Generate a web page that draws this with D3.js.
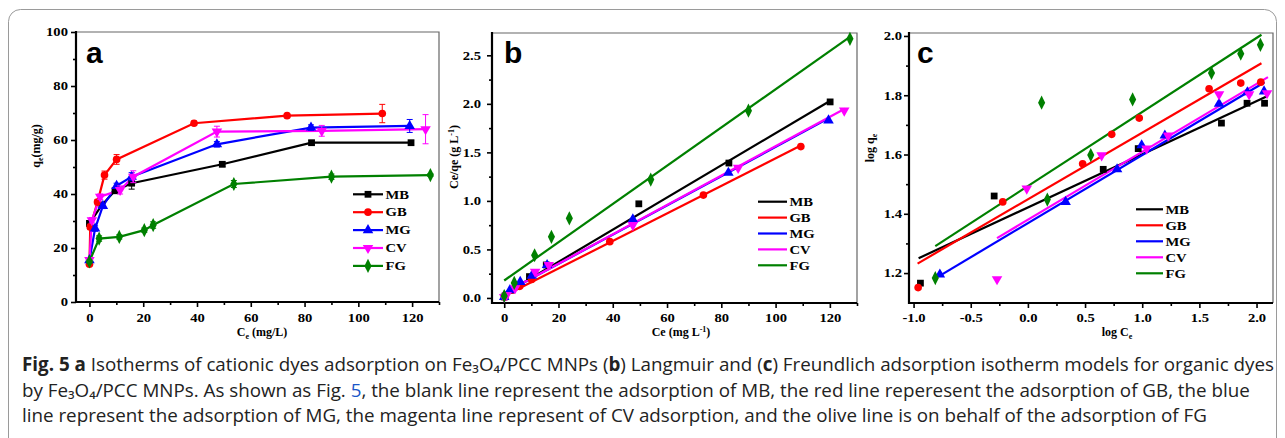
<!DOCTYPE html>
<html>
<head>
<meta charset="utf-8">
<script src="https://cdn.jsdelivr.net/npm/d3@7"></script>
<style>
  body { margin: 0; background: #fff; }
  svg { display: block; }
</style>
</head>
<body>
<script>
// ---- data ----
const dyes = ["MB", "GB", "MG", "CV", "FG"];
const colors = ["#000000", "#ff0000", "#0000ff", "#ff00ff", "#008000"];

// (a) isotherms: [Ce, qe, error]
const isoMB = [[0, 29.1, 1], [4.6, 35.9, 1], [9.5, 41.2, 1], [15.7, 44, 2.2], [49.4, 51, 0.8], [82.6, 59, 0.8], [119.6, 59, 0.8]];
const isoGB = [[0, 14, 0.5], [0.3, 27.8, 1], [3, 37, 1], [5.6, 47, 1.5], [10.1, 52.8, 1.8], [38.9, 66.2, 0.8], [73.5, 69, 0.8], [108.9, 69.8, 3.4]];
const isoMG = [[0, 15.5, 0.5], [2.1, 27.2, 1], [5, 35.6, 1], [10.1, 43, 1], [15.7, 46.4, 1.5], [47.4, 58.4, 1], [82.4, 64.6, 1], [119.1, 65.2, 2.4]];
const isoCV = [[0, 15.5, 0.5], [0.9, 30.3, 1], [4, 39, 1], [11.4, 41.5, 1.5], [16.3, 46.4, 2.2], [47.4, 63.1, 2], [86.4, 63.4, 2], [125, 64, 5.4]];
const isoFG = [[0, 15, 0.5], [3.6, 23.5, 1], [11.1, 24.1, 0.8], [20.4, 26.6, 0.8], [23.7, 28.5, 1.2], [53.7, 43.7, 1.3], [90, 46.4, 1], [126.8, 47, 0.5]];

// (b) Langmuir: points [Ce, Ce/qe] and fitted line ends
const langMB = [[0, 0.01], [4.6, 0.13], [9.3, 0.22], [15.5, 0.34], [49.6, 0.97], [82.8, 1.39], [120.1, 2.02]];
const langGB = [[0.2, 0.01], [0.3, 0.02], [3, 0.08], [5.7, 0.12], [10.1, 0.19], [38.9, 0.58], [73.4, 1.06], [109.3, 1.56]];
const langMG = [[0, 0.01], [2.1, 0.08], [5.9, 0.165], [10.2, 0.23], [15.8, 0.34], [47.4, 0.81], [82.6, 1.29], [119.5, 1.83]];
const langCV = [[0, 0.01], [0.9, 0.03], [4, 0.1], [11.4, 0.27], [16.4, 0.34], [47.4, 0.75], [86.2, 1.34], [125.3, 1.93]];
const langFG = [[0, 0.02], [3.7, 0.155], [11.2, 0.44], [17.4, 0.63], [24, 0.82], [54, 1.22], [90, 1.93], [127.4, 2.67]];
const fitB_MB = [[0, 0.04], [120, 2.03]];
const fitB_GB = [[0, 0.02], [109.3, 1.57]];
const fitB_MG = [[0, 0.05], [119.5, 1.85]];
const fitB_CV = [[0, 0.05], [125.5, 1.95]];
const fitB_FG = [[0, 0.18], [127.4, 2.69]];

// (c) Freundlich: points [log Ce, log qe] and fitted line ends
const logMB = [[-0.94, 1.166], [-0.295, 1.46], [0.659, 1.55], [0.965, 1.62], [1.693, 1.706], [1.917, 1.773], [2.07, 1.773]];
const logGB = [[-0.96, 1.151], [-0.22, 1.44], [0.479, 1.569], [0.733, 1.668], [0.974, 1.723], [1.585, 1.822], [1.862, 1.841], [2.037, 1.844]];
const logMG = [[-0.77, 1.195], [0.33, 1.44], [0.78, 1.55], [0.995, 1.631], [1.198, 1.664], [1.672, 1.771], [1.92, 1.81], [2.066, 1.813]];
const logCV = [[-0.27, 1.179], [-0.01, 1.485], [0.645, 1.597], [1.038, 1.62], [1.227, 1.664], [1.672, 1.803], [1.935, 1.803], [2.092, 1.807]];
const logFG = [[-0.81, 1.183], [0.17, 1.448], [0.12, 1.775], [0.55, 1.598], [0.916, 1.786], [1.606, 1.875], [1.862, 1.94], [2.034, 1.97]];
const fitC_MB = [[-0.956, 1.25], [2.087, 1.796]];
const fitC_GB = [[-0.965, 1.232], [2.043, 1.908]];
const fitC_MG = [[-0.78, 1.189], [2.07, 1.844]];
const fitC_CV = [[-0.27, 1.318], [2.10, 1.861]];
const fitC_FG = [[-0.81, 1.291], [2.043, 2.004]];

// tick values
const aXTicks = [0, 20, 40, 60, 80, 100, 120], aXMinor = [10, 30, 50, 70, 90, 110, 130];
const aYTicks = [0, 20, 40, 60, 80, 100], aYMinor = [10, 30, 50, 70, 90];
const bXTicks = [0, 20, 40, 60, 80, 100, 120], bXMinor = [10, 30, 50, 70, 90, 110, 130];
const bYTicks = [0, 0.5, 1.0, 1.5, 2.0, 2.5], bYMinor = [0.25, 0.75, 1.25, 1.75, 2.25];
const cXTicks = [-1.0, -0.5, 0.0, 0.5, 1.0, 1.5, 2.0], cXMinor = [-0.75, -0.25, 0.25, 0.75, 1.25, 1.75];
const cYTicks = [1.2, 1.4, 1.6, 1.8, 2.0], cYMinor = [1.3, 1.5, 1.7, 1.9];

// ---- drawing ----
const W = 1285, H = 438;
const SERIF = "'Liberation Serif','Times New Roman',serif";
const SANS = "'Liberation Sans',Arial,sans-serif";
const STRETCH = 1.22;
const symbolTypes = [d3.symbolSquare, d3.symbolCircle, d3.symbolTriangle, d3.symbolTriangle, d3.symbolDiamond];
const symbolSizes = [46, 46, 48, 48, 44];

const svg = d3.select("body").append("svg").attr("width", W).attr("height", H);
svg.append("rect").attr("width", W).attr("height", H).attr("fill", "#fff");
svg.append("rect")
  .attr("x", 8.5).attr("y", 9.5).attr("width", 1268).attr("height", 450).attr("rx", 12)
  .attr("fill", "none").attr("stroke", "#9a9a9a");

// widen serif text horizontally like the figure's scaling
function stretchText(sel) {
  sel.each(function () {
    const t = d3.select(this);
    const x = +t.attr("x") || 0;
    t.attr("transform", "translate(" + x + ",0) scale(" + STRETCH + ",1) translate(" + (-x) + ",0)");
  });
}

function panel(cfg) {
  const x = d3.scaleLinear().domain(cfg.xDom).range([cfg.left, cfg.right]);
  const y = d3.scaleLinear().domain(cfg.yDom).range([cfg.bottom, cfg.top]);
  const g = svg.append("g");

  g.append("path")
    .attr("d", "M" + cfg.left + "," + cfg.top + "H" + cfg.right + "V" + cfg.bottom)
    .attr("fill", "none").attr("stroke", "#666").attr("stroke-width", 1.2);

  const xa = g.append("g").attr("transform", "translate(0," + cfg.bottom + ")")
    .call(d3.axisBottom(x).tickValues(cfg.xTicks).tickSize(5).tickPadding(cfg.xPad).tickFormat(cfg.fmt));
  const xm = g.append("g").attr("transform", "translate(0," + cfg.bottom + ")")
    .call(d3.axisBottom(x).tickValues(cfg.xMinor).tickSize(3).tickFormat(""));
  const ya = g.append("g").attr("transform", "translate(" + cfg.left + ",0)")
    .call(d3.axisLeft(y).tickValues(cfg.yTicks).tickSize(5).tickPadding(cfg.yPad).tickFormat(cfg.yFmt));
  const ym = g.append("g").attr("transform", "translate(" + cfg.left + ",0)")
    .call(d3.axisLeft(y).tickValues(cfg.yMinor).tickSize(3).tickFormat(""));

  [xa, xm, ya, ym].forEach(a => {
    a.select(".domain").remove();
    a.selectAll("line").attr("stroke", "#000").attr("stroke-width", 1.6);
    a.attr("font-family", SERIF).attr("font-size", 12).attr("font-weight", "bold");
    a.selectAll("text").attr("fill", "#000");
  });
  stretchText(xa.selectAll("text"));
  stretchText(ya.selectAll("text"));

  g.append("path")
    .attr("d", "M" + cfg.left + "," + (cfg.top - 1) + "V" + cfg.bottom + "H" + cfg.right)
    .attr("fill", "none").attr("stroke", "#000").attr("stroke-width", 2.2);

  g.append("text").attr("x", cfg.labelX).attr("y", 62.7)
    .attr("font-family", SANS).attr("font-weight", "bold").attr("font-size", 30)
    .text(cfg.label);
  return { g, x, y };
}

function drawMarker(g, i, px, py) {
  const sym = d3.symbol().type(symbolTypes[i]).size(symbolSizes[i]);
  g.append("path")
    .attr("d", sym())
    .attr("transform", "translate(" + px + "," + py + ")" + (i === 3 ? " rotate(180)" : "") + (i === 4 ? " scale(1,1.15)" : ""))
    .attr("fill", colors[i]);
}

function legend(g, x1, x2, y0, dy, withMarkers) {
  dyes.forEach((name, i) => {
    const yy = y0 + i * dy;
    g.append("line").attr("x1", x1).attr("x2", x2).attr("y1", yy).attr("y2", yy)
      .attr("stroke", colors[i]).attr("stroke-width", 2.2);
    if (withMarkers) drawMarker(g, i, (x1 + x2) / 2, yy);
    const t = g.append("text").attr("x", x2 + 2.5).attr("y", yy + 4.3)
      .attr("font-family", SERIF).attr("font-weight", "bold").attr("font-size", 12)
      .text(name);
    stretchText(t);
  });
}

function axisTitle(parts, x, y, rotate) {
  const t = svg.append("text")
    .attr("transform", "translate(" + x + "," + y + ")" + (rotate ? " rotate(-90)" : ""))
    .attr("text-anchor", "middle")
    .attr("font-family", SERIF).attr("font-weight", "bold").attr("font-size", 12);
  parts.forEach(p => {
    const s = t.append("tspan").text(p[0]);
    if (p[1] === "sub") s.attr("font-size", 8).attr("dy", 3);
    if (p[1] === "sup") s.attr("font-size", 8).attr("dy", -4);
    if (p[1] === "back") s.attr("dy", -3);
    if (p[1] === "backsup") s.attr("dy", 4);
  });
  return t;
}

// ---- panel a ----
const A = panel({
  left: 76, top: 32, right: 439, bottom: 302, xDom: [-5, 130], yDom: [0, 100],
  xTicks: aXTicks, xMinor: aXMinor, yTicks: aYTicks, yMinor: aYMinor,
  fmt: d3.format("d"), yFmt: d3.format("d"), xPad: 6, yPad: 3, label: "a", labelX: 86
});
const isoSeries = [isoMB, isoGB, isoMG, isoCV, isoFG];
const lineA = d3.line().x(d => A.x(d[0])).y(d => A.y(d[1]));
isoSeries.forEach((s, i) => {
  A.g.append("path").attr("d", lineA(s)).attr("fill", "none")
    .attr("stroke", colors[i]).attr("stroke-width", 2.2);
});
isoSeries.forEach((s, i) => {
  s.forEach(d => {
    const px = A.x(d[0]), y1 = A.y(d[1] - d[2]), y2 = A.y(d[1] + d[2]);
    A.g.append("path")
      .attr("d", "M" + px + "," + y1 + "V" + y2 + "M" + (px - 3) + "," + y1 + "h6M" + (px - 3) + "," + y2 + "h6")
      .attr("stroke", colors[i]).attr("stroke-width", 1).attr("fill", "none");
    drawMarker(A.g, i, px, A.y(d[1]));
  });
});
legend(A.g, 353, 383, 194.3, 17.9, true);

// ---- panel b ----
const B = panel({
  left: 492, top: 33, right: 857, bottom: 303, xDom: [-4.5, 130], yDom: [-0.052, 2.73],
  xTicks: bXTicks, xMinor: bXMinor, yTicks: bYTicks, yMinor: bYMinor,
  fmt: d3.format("d"), yFmt: d => d.toFixed(1), xPad: 5.5, yPad: 6, label: "b", labelX: 504
});
const langSeries = [langMB, langGB, langMG, langCV, langFG];
const fitB = [fitB_MB, fitB_GB, fitB_MG, fitB_CV, fitB_FG];
const lineB = d3.line().x(d => B.x(d[0])).y(d => B.y(d[1]));
fitB.forEach((s, i) => {
  B.g.append("path").attr("d", lineB(s)).attr("fill", "none")
    .attr("stroke", colors[i]).attr("stroke-width", 2.2);
});
langSeries.forEach((s, i) => s.forEach(d => drawMarker(B.g, i, B.x(d[0]), B.y(d[1]))));
legend(B.g, 758, 787, 201.7, 15.9, false);

// ---- panel c ----
const C = panel({
  left: 909, top: 33, right: 1273, bottom: 303, xDom: [-1.04, 2.144], yDom: [1.099, 2.01],
  xTicks: cXTicks, xMinor: cXMinor, yTicks: cYTicks, yMinor: cYMinor,
  fmt: d => d.toFixed(1), yFmt: d => d.toFixed(1), xPad: 5.5, yPad: 2, label: "c", labelX: 917
});
const logSeries = [logMB, logGB, logMG, logCV, logFG];
const fitC = [fitC_MB, fitC_GB, fitC_MG, fitC_CV, fitC_FG];
const lineC = d3.line().x(d => C.x(d[0])).y(d => C.y(d[1]));
fitC.forEach((s, i) => {
  C.g.append("path").attr("d", lineC(s)).attr("fill", "none")
    .attr("stroke", colors[i]).attr("stroke-width", 2.2);
});
logSeries.forEach((s, i) => s.forEach(d => drawMarker(C.g, i, C.x(d[0]), C.y(d[1]))));
legend(C.g, 1136, 1163, 209.3, 16, false);

// ---- axis titles ----
axisTitle([["q"], ["e", "sub"], ["(mg/g)", "back"]], 40, 146, true);
axisTitle([["C"], ["e", "sub"], [" (mg/L)", "back"]], 262, 336, false);
axisTitle([["Ce/qe (g L"], ["-1", "sup"], [")", "backsup"]], 458, 157, true);
axisTitle([["Ce (mg L"], ["-1", "sup"], [")", "backsup"]], 681, 336, false);
axisTitle([["log q"], ["e", "sub"]], 874, 148, true);
axisTitle([["log C"], ["e", "sub"]], 1117, 336, false);

// ---- caption ----
const captionLines = [
  [["Fig. 5 a", "b"], [" Isotherms of cationic dyes adsorption on Fe\u2083O\u2084/PCC MNPs ("], ["b", "b"], [") Langmuir and ("], ["c", "b"], [") Freundlich adsorption isotherm models for organic dyes"]],
  [["by Fe\u2083O\u2084/PCC MNPs. As shown as Fig. "], ["5", "link"], [", the blank line represent the adsorption of MB, the red line reperesent the adsorption of GB, the blue"]],
  [["line represent the adsorption of MG, the magenta line represent of CV adsorption, and the olive line is on behalf of the adsorption of FG"]]
];
const capBase = [371, 397, 422];
let capSize = 17;
const capTexts = captionLines.map((segs, li) => {
  const t = svg.append("text").attr("x", 22).attr("y", capBase[li])
    .attr("font-family", "'Open Sans','Noto Sans',sans-serif").attr("fill", "#222");
  segs.forEach(p => {
    const s = t.append("tspan").text(p[0]);
    if (p[1] === "b") s.attr("font-weight", "bold");
    if (p[1] === "link") s.attr("fill", "#1a56c9");
  });
  return t;
});
capTexts.forEach(t => t.attr("font-size", capSize));
const len1 = capTexts[0].node().getComputedTextLength();
capSize = capSize * 1253 / len1;
capTexts.forEach(t => t.attr("font-size", capSize));
</script>
</body>
</html>
